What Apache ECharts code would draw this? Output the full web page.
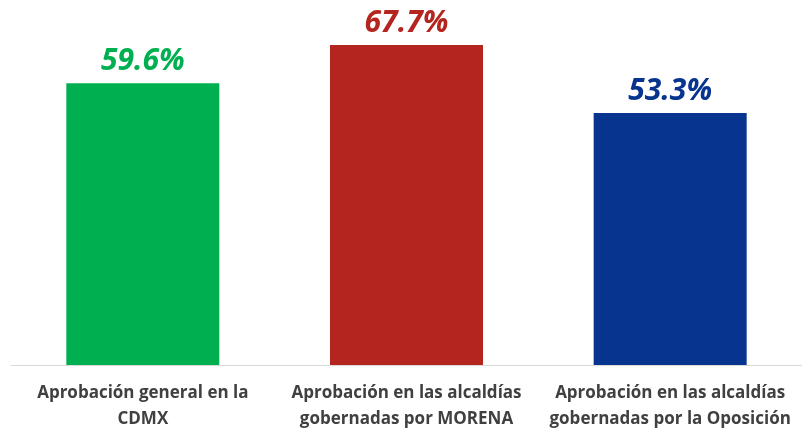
<!DOCTYPE html>
<html>
<head>
<meta charset="utf-8">
<script src="https://cdn.jsdelivr.net/npm/echarts@6/dist/echarts.min.js"></script>
<style>
  html, body { margin: 0; padding: 0; background: #fff; }
  #chart { width: 802px; height: 429px; }
</style>
</head>
<body>
<div id="chart"></div>
<script>
// categorías y valores
const categories = [
  'Aprobación general en la\nCDMX',
  'Aprobación en las alcaldías\ngobernadas por MORENA',
  'Aprobación en las alcaldías\ngobernadas por la Oposición'
]
const values = [59.6, 67.7, 53.3]
const colors = ['#00b050', '#b5251f', '#06348f']

const chart = echarts.init(document.getElementById('chart'))

const option = {
  animation: false,
  backgroundColor: '#fff',
  grid: {
    left: 11,
    right: 0,
    top: 45,
    bottom: 64,
    containLabel: false,
    outerBoundsMode: 'none',
  },
  xAxis: {
    type: 'category',
    data: categories,
    axisTick: { show: false },
    axisLine: {
      lineStyle: { color: '#d9d9d9', width: 1 },
    },
    axisLabel: {
      interval: 0,
      margin: 15,
      color: '#404040',
      fontFamily: 'Open Sans',
      fontWeight: 'bold',
      fontSize: 17,
      lineHeight: 26,
    },
  },
  yAxis: {
    type: 'value',
    min: 0,
    max: 67.7,
    show: false,
    splitLine: { show: false },
  },
  series: [
    {
      type: 'bar',
      barWidth: 153,
      data: values.map((v, i) => ({
        value: v,
        itemStyle: { color: colors[i] },
        label: { color: colors[i] },
      })),
      label: {
        show: true,
        position: 'top',
        distance: 7,
        fontFamily: 'Open Sans',
        fontWeight: 'bold',
        fontStyle: 'italic',
        fontSize: 30,
        formatter: p => p.value.toFixed(1) + '%',
      },
    },
  ],
}

chart.setOption(option)
</script>
</body>
</html>
